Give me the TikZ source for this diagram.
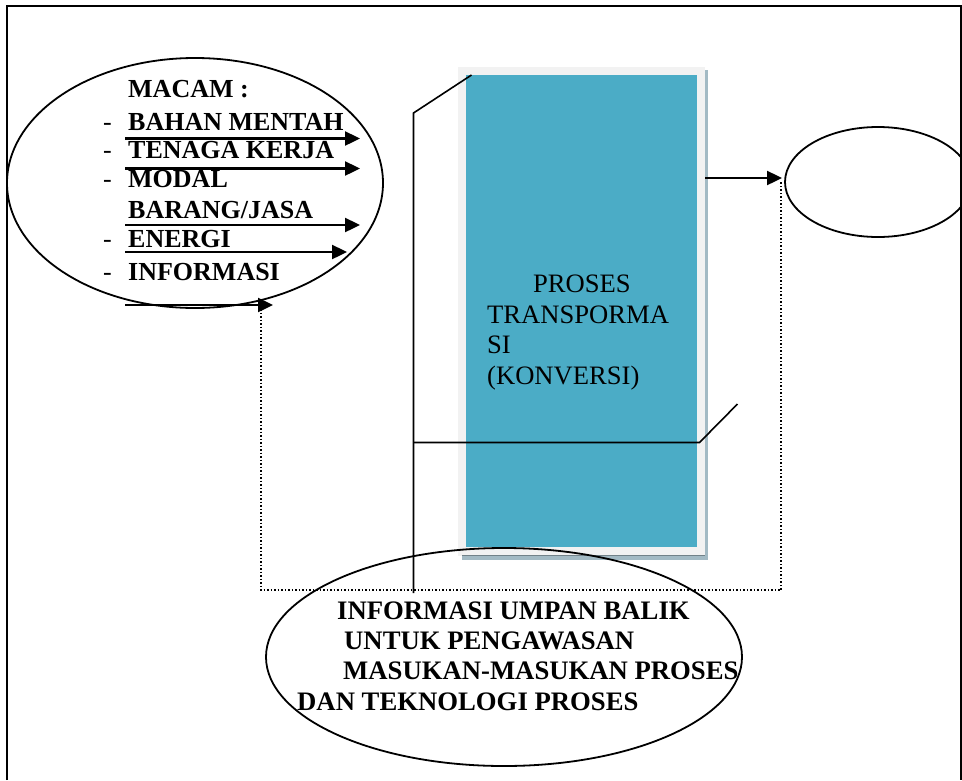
\documentclass[tikz,border=0pt]{standalone}
\usepackage{fontspec}
\setmainfont{Liberation Serif}
\usetikzlibrary{arrows.meta,shapes.geometric}
\definecolor{procfill}{HTML}{4BACC6}
\definecolor{procpad}{HTML}{F2F2F2}
\definecolor{procshadow}{HTML}{A3BAC4}
\begin{document}
\begin{tikzpicture}[x=1pt,y=-1pt,
  outline/.style={draw=black,line width=1.8pt},
  flow/.style={line width=2.4pt,-{Triangle[length=15pt,width=14pt]}},
  feedback/.style={line width=1.5pt,dotted},
  frame/.style={line width=1.8pt},
  bracket/.style={line width=1.6pt},
  itemtxt/.style={anchor=base west,inner sep=0pt,font=\fontsize{26}{30}\selectfont\bfseries},
  dashtxt/.style={anchor=base west,inner sep=0pt,font=\fontsize{26}{30}\selectfont},
  proctxt/.style={anchor=base west,inner sep=0pt,font=\fontsize{26.6}{30}\selectfont},
  fbtxt/.style={anchor=base west,inner sep=0pt,font=\fontsize{26.7}{30}\selectfont\bfseries}]
\useasboundingbox (0,0) rectangle (962,780);

% page frame (open at the bottom)
\draw[frame] (7,780) -- (7,6) -- (961,6) -- (961,780);

% process block with its shadow and pad
\fill[procshadow] (462,70) rectangle (708,560);
\fill[procpad] (458,67) rectangle (705,556);
\draw[procshadow!70!black,line width=0.4pt] (462,555) -- (705,555);
\node[fill=procfill,inner sep=0pt,minimum width=231pt,minimum height=472pt,anchor=north west] (proc) at (466,75) {};
\node[proctxt] (p1) at (533,292) {PROSES};
\node[proctxt] (p2) at (487,323) {TRANSPORMA};
\node[proctxt] (p3) at (487,353) {SI};
\node[proctxt] (p4) at (487,384) {(KONVERSI)};

% input ellipse
\node[outline,ellipse,minimum width=376pt,minimum height=250pt,inner sep=0pt] (inp) at (195,183) {};
\node[itemtxt] (macam) at (128,97) {MACAM :};
\node[dashtxt] (d1) at (103,130) {-};
\node[itemtxt] (i1) at (128,130) {BAHAN MENTAH};
\node[dashtxt] (d2) at (103,158) {-};
\node[itemtxt] (i2) at (128,158) {TENAGA KERJA};
\node[dashtxt] (d3) at (103,187) {-};
\node[itemtxt] (i3) at (128,187) {MODAL};
\node[itemtxt] (i3b) at (128,218) {BARANG/JASA};
\node[dashtxt] (d4) at (103,247) {-};
\node[itemtxt] (i4) at (128,247) {ENERGI};
\node[dashtxt] (d5) at (103,280) {-};
\node[itemtxt] (i5) at (128,280) {INFORMASI};

% input arrows
\coordinate (a1s) at (125,138.5); \coordinate (a1e) at (360,138.5);
\coordinate (a2s) at (125,168.5); \coordinate (a2e) at (360,168.5);
\coordinate (a3s) at (125,225);   \coordinate (a3e) at (360,225);
\coordinate (a4s) at (125,252);   \coordinate (a4e) at (347,252);
\coordinate (a5s) at (125,305);   \coordinate (a5e) at (273,305);
\draw[flow] (a1s) -- (a1e);
\draw[flow] (a2s) -- (a2e);
\draw[flow] (a3s) -- (a3e);
\draw[flow] (a4s) -- (a4e);
\draw[flow] (a5s) -- (a5e);

% output ellipse, cut by the frame
\begin{scope}
  \clip (0,0) rectangle (961,780);
  \node[outline,ellipse,minimum width=186pt,minimum height=110pt,inner sep=0pt] (out) at (878,182) {};
\end{scope}
\coordinate (os) at (705,178);
\coordinate (oe) at (782,178);
\draw[flow] (os) -- (oe);

% feedback ellipse
\node[outline,ellipse,minimum width=476pt,minimum height=218pt,inner sep=0pt] (fb) at (504,657) {};
\node[fbtxt] (f1) at (337,619) {INFORMASI UMPAN BALIK};
\node[fbtxt] (f2) at (344,649) {UNTUK PENGAWASAN};
\node[fbtxt] (f3) at (343,679) {MASUKAN-MASUKAN PROSES};
\node[fbtxt] (f4) at (297,710) {DAN TEKNOLOGI PROSES};

% dotted feedback loop
\coordinate (fbl) at (261,309);
\coordinate (fbr) at (781,181);
\draw[feedback] (fbl) |- (781,590) -- (fbr);

% bracket lines around the process block
\coordinate (bt) at (471.5,75);
\coordinate (bk) at (413.5,113);
\coordinate (bb) at (413.5,593);
\coordinate (bh) at (413.5,442.5);
\coordinate (bc) at (699.5,442.5);
\coordinate (br) at (737.5,404);
\draw[bracket] (bt) -- (bk) -- (bb);
\draw[bracket] (bh) -- (bc) -- (br);
\end{tikzpicture}
\end{document}
